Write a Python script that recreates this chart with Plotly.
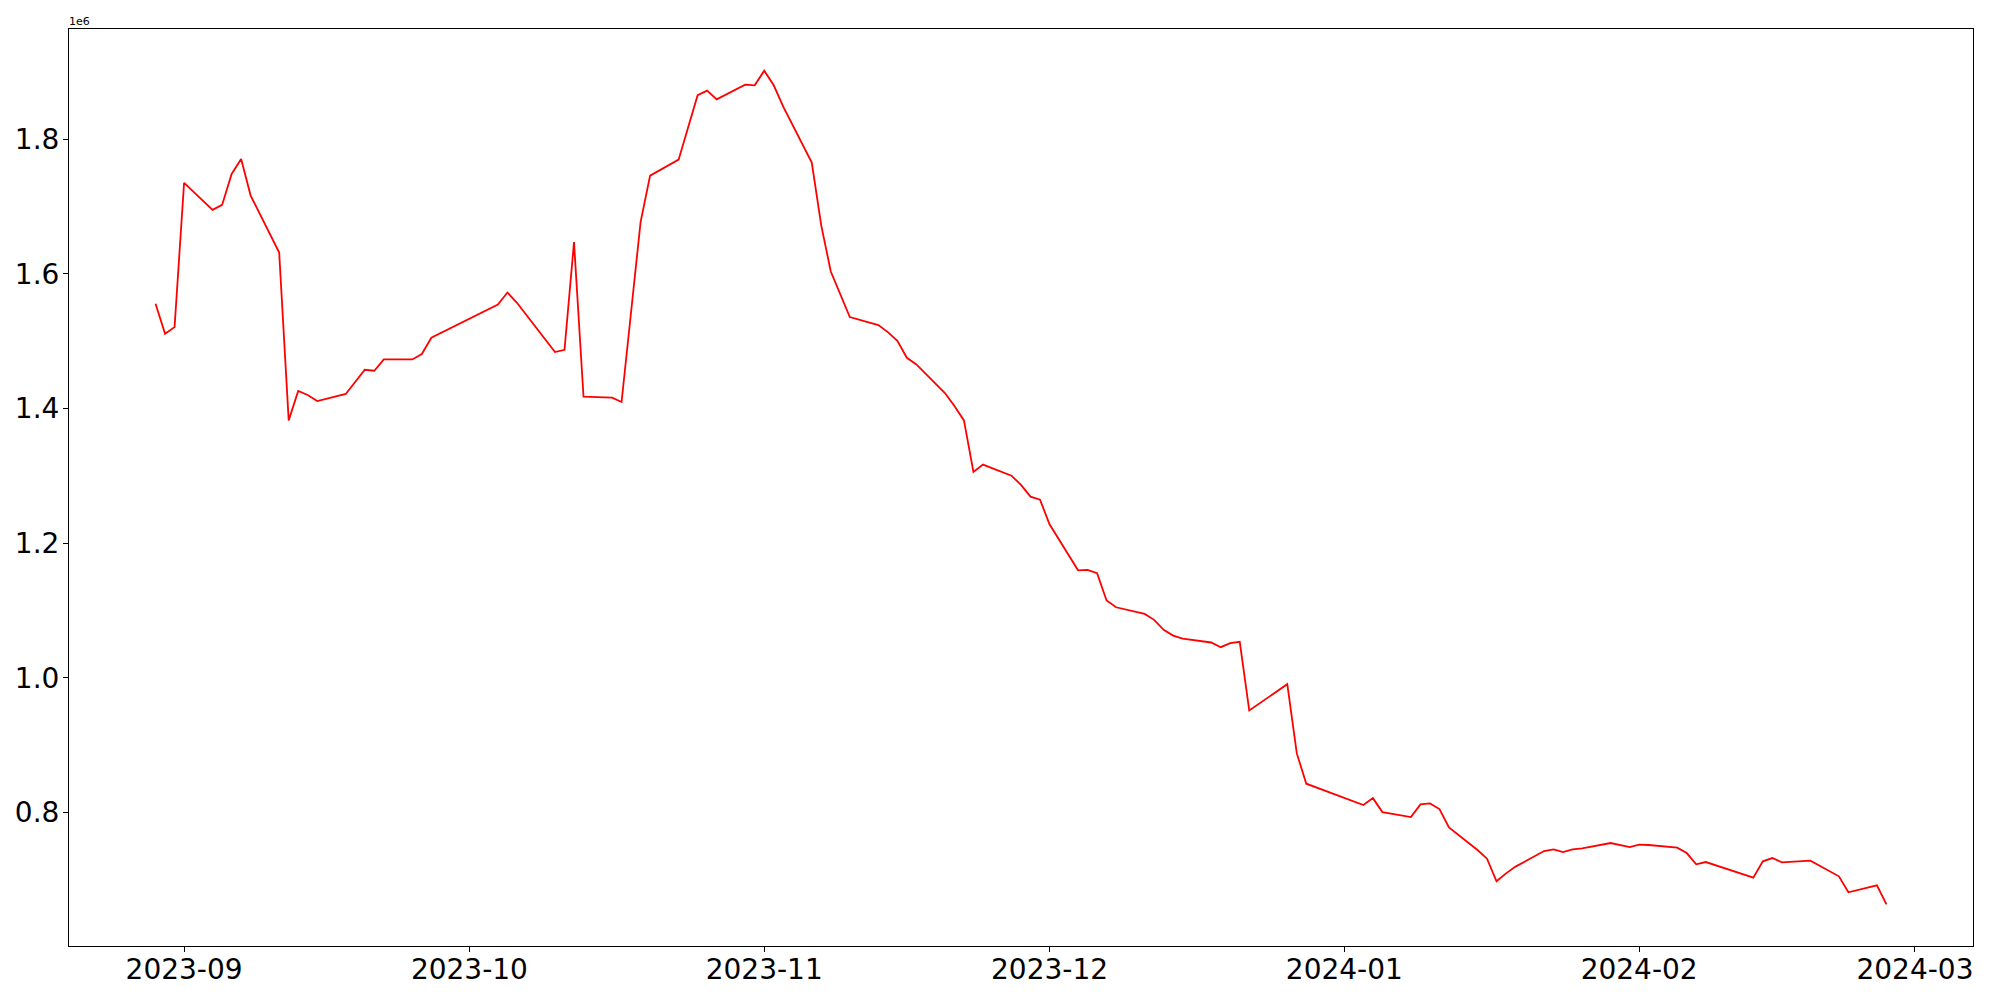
import plotly.graph_objects as go
import pandas as pd

dates = [
    "2023-08-29", "2023-08-30", "2023-08-31", "2023-09-01",
    "2023-09-04", "2023-09-05", "2023-09-06", "2023-09-07", "2023-09-08",
    "2023-09-11", "2023-09-12", "2023-09-13", "2023-09-14", "2023-09-15",
    "2023-09-18", "2023-09-19", "2023-09-20", "2023-09-21", "2023-09-22",
    "2023-09-25", "2023-09-26", "2023-09-27",
    "2023-10-04", "2023-10-05", "2023-10-06",
    "2023-10-10", "2023-10-11", "2023-10-12", "2023-10-13",
    "2023-10-16", "2023-10-17", "2023-10-19", "2023-10-20",
    "2023-10-23", "2023-10-24", "2023-10-25", "2023-10-26", "2023-10-27",
    "2023-10-30", "2023-10-31", "2023-11-01", "2023-11-02", "2023-11-03",
    "2023-11-06", "2023-11-07", "2023-11-08", "2023-11-10",
    "2023-11-13", "2023-11-14", "2023-11-15", "2023-11-16", "2023-11-17",
    "2023-11-20", "2023-11-21", "2023-11-22", "2023-11-23", "2023-11-24",
    "2023-11-27", "2023-11-28", "2023-11-29", "2023-11-30", "2023-12-01",
    "2023-12-04", "2023-12-05", "2023-12-06", "2023-12-07", "2023-12-08",
    "2023-12-11", "2023-12-12", "2023-12-13", "2023-12-14", "2023-12-15",
    "2023-12-18", "2023-12-19", "2023-12-20", "2023-12-21", "2023-12-22",
    "2023-12-26", "2023-12-27", "2023-12-28",
    "2024-01-03", "2024-01-04", "2024-01-05",
    "2024-01-08", "2024-01-09", "2024-01-10", "2024-01-11", "2024-01-12",
    "2024-01-15", "2024-01-16", "2024-01-17", "2024-01-18", "2024-01-19",
    "2024-01-22", "2024-01-23", "2024-01-24", "2024-01-25", "2024-01-26",
    "2024-01-29", "2024-01-30", "2024-01-31", "2024-02-01", "2024-02-02",
    "2024-02-05", "2024-02-06", "2024-02-07", "2024-02-08",
    "2024-02-13", "2024-02-14", "2024-02-15", "2024-02-16",
    "2024-02-19", "2024-02-20", "2024-02-21", "2024-02-22", "2024-02-23",
    "2024-02-26", "2024-02-27",
]

values = [
    1555600, 1511100, 1521000, 1735200,
    1695100, 1702500, 1748500, 1770800, 1716300,
    1631700, 1382500, 1426100, 1420200, 1411300,
    1421700, 1440400, 1457700, 1456200, 1473000,
    1473000, 1481000, 1505200,
    1554600, 1572400, 1557100,
    1484000, 1487400, 1647200, 1417700,
    1416200, 1409800, 1676900, 1746000,
    1769700, 1816300, 1865300, 1872100, 1859300,
    1881000, 1880100, 1901800, 1880100, 1848400,
    1765300, 1671800, 1603600, 1535900,
    1524000, 1513600, 1500700, 1475500, 1465600,
    1423100, 1403900, 1382500, 1305900, 1316800,
    1300400, 1286600, 1269300, 1264800, 1228200,
    1159900, 1160500, 1155500, 1115000, 1105000,
    1095200, 1086300, 1071500, 1063000, 1058600,
    1052700, 1045700, 1051600, 1053700, 951800,
    990800, 888000, 843000,
    811300, 821600, 800900,
    793500, 812300, 813800, 805300, 778200,
    744500, 731700, 698100, 709900, 719900,
    743000, 745500, 741500, 745500, 747000,
    754900, 751900, 749000, 752500, 752000,
    748000, 740000, 723300, 726700,
    703500, 727700, 732600, 726200,
    728800, 721400, 712900, 705500, 681700,
    692100, 663900,
]

x_tick_dates = ["2023-09-01", "2023-10-01", "2023-11-01", "2023-12-01",
                "2024-01-01", "2024-02-01", "2024-03-01"]
x_tick_labels = ["2023-09", "2023-10", "2023-11", "2023-12",
                 "2024-01", "2024-02", "2024-03"]
y_tick_vals = [800000, 1000000, 1200000, 1400000, 1600000, 1800000]
y_tick_labels = ["0.8", "1.0", "1.2", "1.4", "1.6", "1.8"]

# matplotlib-like 5% margins
d = pd.to_datetime(dates)
dspan = d.max() - d.min()
x_range = [d.min() - dspan * 0.05, d.max() + dspan * 0.05]
vmin, vmax = min(values), max(values)
vspan = vmax - vmin
y_range = [vmin - vspan * 0.05, vmax + vspan * 0.05]

fig = go.Figure()
fig.add_trace(go.Scatter(
    x=dates, y=values, mode="lines",
    line=dict(color="#ff0000", width=1.8),
    showlegend=False, hoverinfo="x+y",
))

axis_common = dict(
    showline=True, linecolor="black", linewidth=1.1, mirror=True,
    ticks="outside", ticklen=5, tickwidth=1.1, tickcolor="black",
    showgrid=False, zeroline=False, automargin=False,
    tickfont=dict(family="DejaVu Sans", size=28, color="black"),
)

# page body has an 8px margin, so the figure is sized/offset to compensate
fig.update_layout(
    width=1992, height=992,
    margin=dict(l=61, r=27, t=21, b=54, pad=0),
    paper_bgcolor="white", plot_bgcolor="white",
    xaxis=dict(
        type="date",
        range=[x_range[0].strftime("%Y-%m-%d %H:%M:%S"), x_range[1].strftime("%Y-%m-%d %H:%M:%S")],
        tickvals=x_tick_dates, ticktext=x_tick_labels,
        ticklabelstandoff=-7,
        **axis_common,
    ),
    yaxis=dict(
        range=y_range,
        tickvals=y_tick_vals, ticktext=y_tick_labels,
        ticklabelstandoff=-2,
        **axis_common,
    ),
    annotations=[dict(
        text="1e6", xref="paper", yref="paper", x=0, y=1,
        xanchor="left", yanchor="bottom", showarrow=False,
        font=dict(family="DejaVu Sans", size=11, color="black"),
        yshift=-1, xshift=-2,
    )],
)

fig.write_html("out.html")
